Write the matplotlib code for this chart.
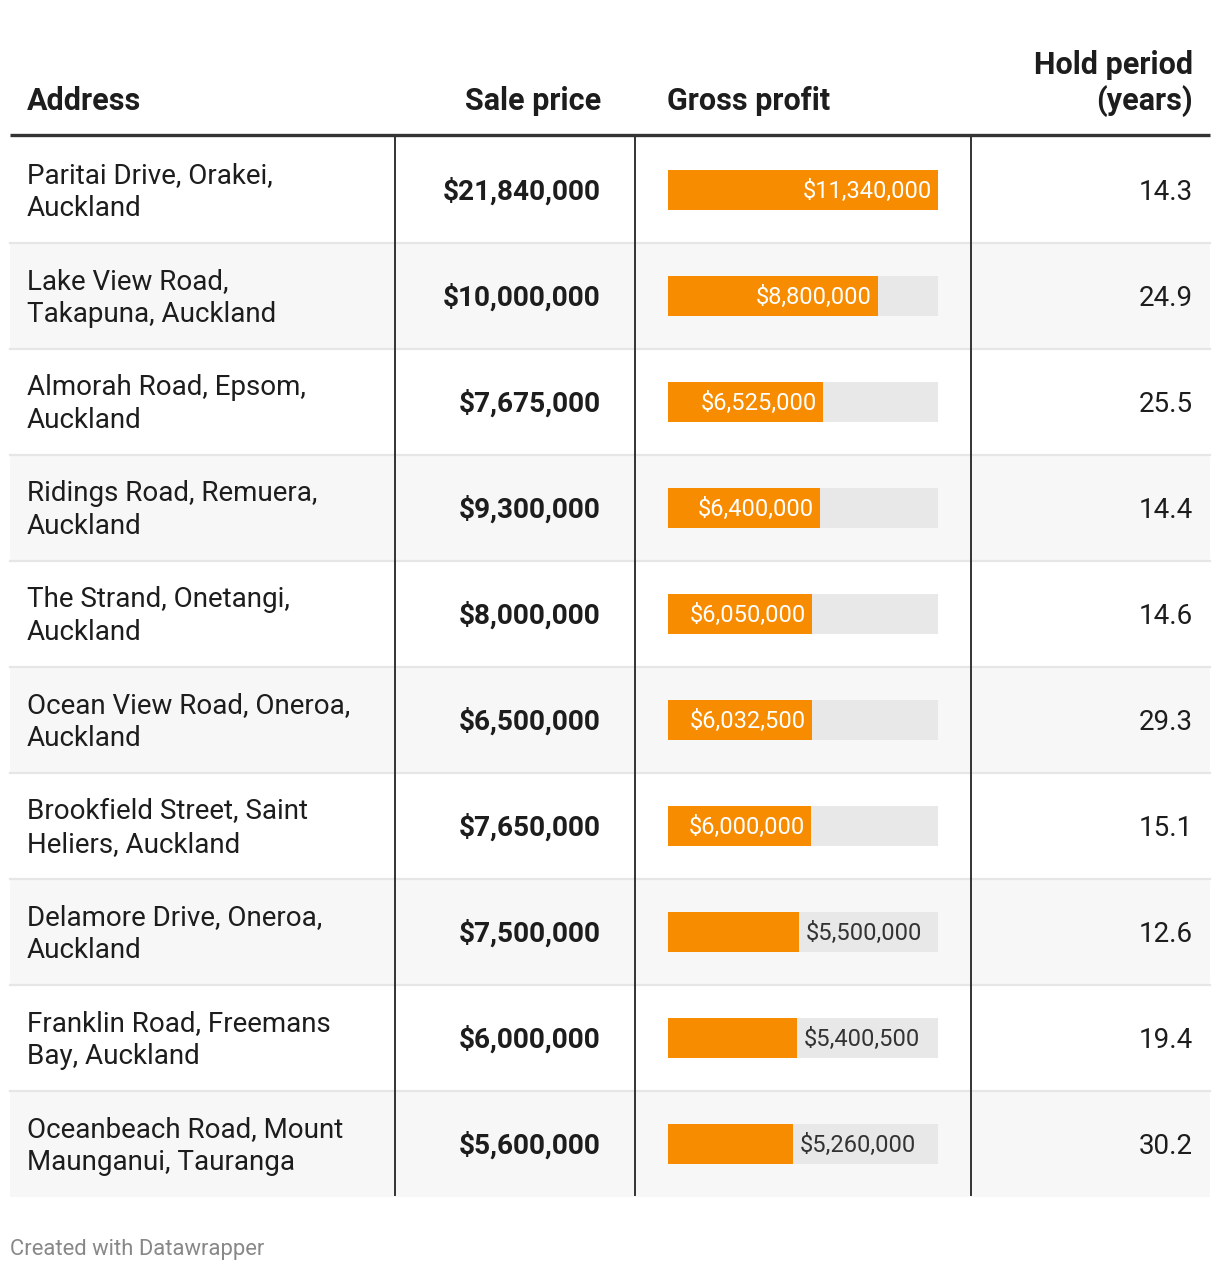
import textwrap
import matplotlib.pyplot as plt

plt.rcParams['font.family'] = ['Roboto', 'DejaVu Sans']

# table data
addresses = [
    "Paritai Drive, Orakei, Auckland",
    "Lake View Road, Takapuna, Auckland",
    "Almorah Road, Epsom, Auckland",
    "Ridings Road, Remuera, Auckland",
    "The Strand, Onetangi, Auckland",
    "Ocean View Road, Oneroa, Auckland",
    "Brookfield Street, Saint Heliers, Auckland",
    "Delamore Drive, Oneroa, Auckland",
    "Franklin Road, Freemans Bay, Auckland",
    "Oceanbeach Road, Mount Maunganui, Tauranga",
]
sale_price = [21840000, 10000000, 7675000, 9300000, 8000000,
              6500000, 7650000, 7500000, 6000000, 5600000]
gross_profit = [11340000, 8800000, 6525000, 6400000, 6050000,
                6032500, 6000000, 5500000, 5400500, 5260000]
hold_years = [14.3, 24.9, 25.5, 14.4, 14.6, 29.3, 15.1, 12.6, 19.4, 30.2]
headers = ["Address", "Sale price", "Gross profit", "Hold period\n(years)"]

W, H = 1220, 1272
top, row_h = 137, 106
n = len(addresses)
dark = '#1d1d1d'
orange = '#f88c00'

fig = plt.figure(figsize=(W / 100, H / 100), dpi=100)
ax = fig.add_axes([0, 0, 1, 1])
ax.set_xlim(0, W)
ax.set_ylim(H, 0)
ax.axis('off')

centers = [top + row_h * (i + 0.5) for i in range(n)]

# striped rows
stripe = ['white' if i % 2 == 0 else '#f7f7f7' for i in range(n)]
ax.barh(centers, 1200, left=10, height=row_h, color=stripe, zorder=0)
for i in range(1, n):
    ax.plot([10, 1210], [top + row_h * i] * 2, color='#e6e6e6', lw=1.6, zorder=1)

# header
ax.text(27, 110, headers[0], ha='left', va='baseline', fontsize=22, fontweight='bold', color=dark)
ax.text(601, 110, headers[1], ha='right', va='baseline', fontsize=22, fontweight='bold', color=dark)
ax.text(667, 110, headers[2], ha='left', va='baseline', fontsize=22, fontweight='bold', color=dark)
ax.text(1193, 110, headers[3], ha='right', va='baseline', fontsize=22, fontweight='bold',
        color=dark, linespacing=1.22)
ax.plot([10, 1210], [135, 135], color='#333333', lw=2.4, solid_capstyle='butt', zorder=3)

# column separators
for x in [395, 635, 971]:
    ax.plot([x, x], [137, top + row_h * n - 2], color='#333333', lw=1.4, zorder=3)

for i in range(n):
    y = centers[i] + 2
    ax.text(27, y, textwrap.fill(addresses[i], 24), ha='left', va='center',
            fontsize=20, color=dark, linespacing=1.26)
    ax.text(601, y, f"${sale_price[i]:,}", ha='right', va='center',
            fontsize=20.2, fontweight='bold', color=dark)
    ax.text(1193, y, f"{hold_years[i]:.1f}", ha='right', va='center',
            fontsize=20, color=dark)

# bar column
bottom = H - (top + row_h * n)
bx = fig.add_axes([668 / W, bottom / H, 270 / W, row_h * n / H])
bx.patch.set_alpha(0)
bx.axis('off')
vmax = max(gross_profit)
rows = list(range(n))
bx.barh(rows, vmax, height=40 / row_h, color='#e8e8e8')
bx.barh(rows, gross_profit, height=40 / row_h, color=orange)
bx.set_xlim(0, vmax)
bx.set_ylim(n - 0.5, -0.5)
for i, v in enumerate(gross_profit):
    if v / vmax > 0.5:
        bx.annotate(f"${v:,}", (v, i + 0.01), xytext=(-4.5, 0), textcoords='offset points',
                    ha='right', va='center', fontsize=17, color='white')
    else:
        bx.annotate(f"${v:,}", (v, i + 0.01), xytext=(5, 0), textcoords='offset points',
                    ha='left', va='center', fontsize=17, color='#333333')

ax.text(10, 1249, "Created with Datawrapper", ha='left', va='center',
        fontsize=15.8, color='#888888')

fig.savefig('out.png', dpi=100)
